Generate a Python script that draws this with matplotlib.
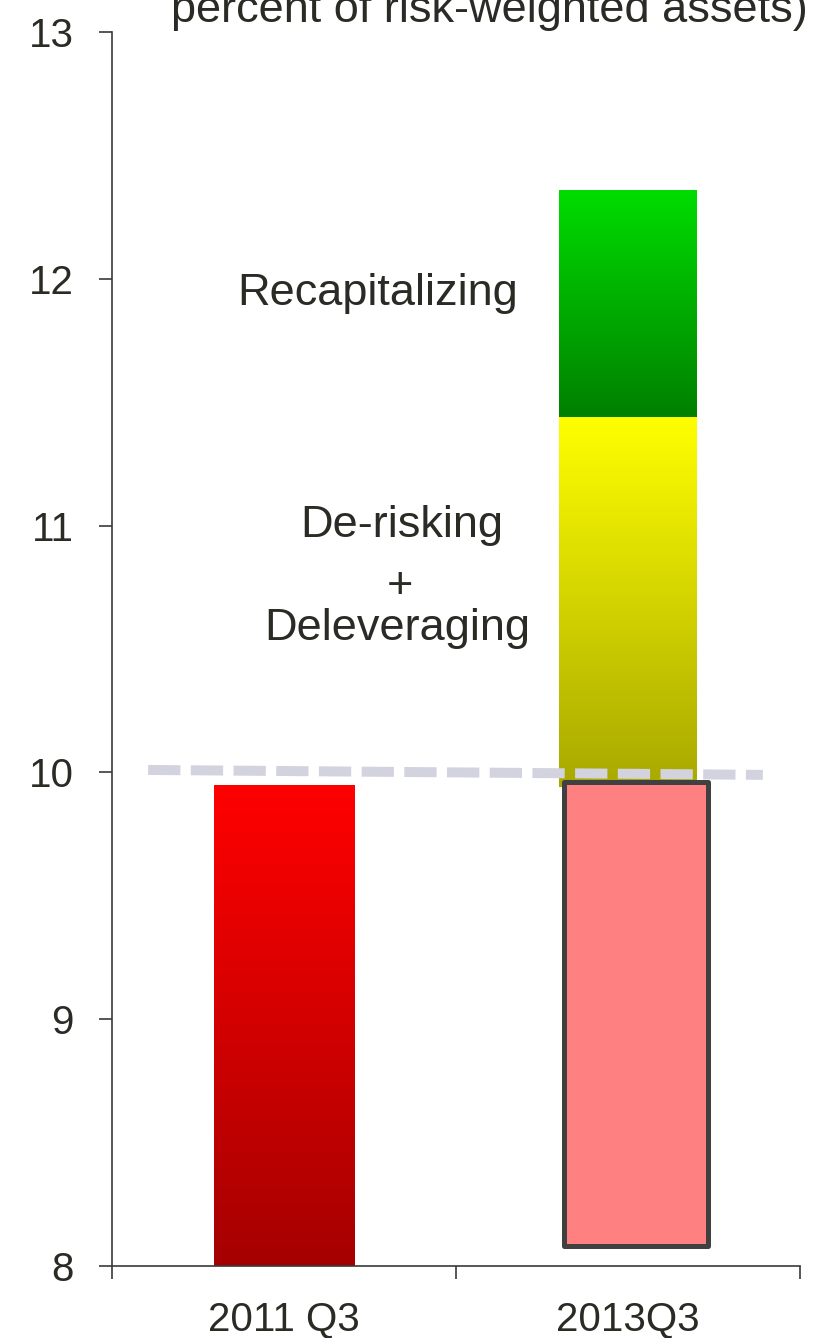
import numpy as np
import matplotlib
matplotlib.use("Agg")
import matplotlib.pyplot as plt
from matplotlib.colors import LinearSegmentedColormap

plt.rcParams['font.family'] = ['Liberation Sans', 'DejaVu Sans']

# ---- data ----
categories = ["2011 Q3", "2013Q3"]
base_2011 = 9.95
base_2013 = 9.96          # outlined box (2013 starting level)
base_2013_bottom = 8.083
derisking_top = 11.44
recap_top = 12.36
threshold = [10.01, 9.99]  # dashed reference line (start, end)
yticks = [8, 9, 10, 11, 12, 13]
title_text = "percent of risk-weighted assets)"

TXT = "#2b2b25"
LBL = 32.5
TCK = 29

fig = plt.figure(figsize=(8.17, 13.38), dpi=100)
ax = fig.add_axes([112/817, 1-1266/1338, (800-112)/817, (1266-32)/1338])
ax.set_xlim(0, 2)
ax.set_ylim(8, 13)

def grad_bar(x, bottom, top, width, c_top, c_bot, zorder=2):
    bars = ax.bar(x, top - bottom, bottom=bottom, width=width, color='none',
                  linewidth=0, zorder=zorder)
    patch = bars[0]
    cmap = LinearSegmentedColormap.from_list("g", [c_bot, c_top])
    grad = np.linspace(0, 1, 256).reshape(-1, 1)
    im = ax.imshow(grad, cmap=cmap, origin='lower', aspect='auto',
                   extent=[x - width/2, x + width/2, bottom, top],
                   zorder=zorder, interpolation='bicubic')
    im.set_clip_path(patch)
    return patch

# 2011 Q3 red bar
grad_bar(0.5, 8, base_2011, 0.407, "#ff0000", "#a50000")
# 2013 yellow segment
grad_bar(1.5, base_2013 - 0.02, derisking_top, 0.4, "#ffff00", "#a8a800", zorder=2)
# 2013 green segment
grad_bar(1.5, derisking_top, recap_top, 0.4, "#00dd00", "#008000", zorder=2)

# dashed threshold line
ax.plot([0.105, 1.892], threshold, color="#d3d3e0", linewidth=7.2,
        dashes=(3.23, 1.04), solid_capstyle='butt', dash_capstyle='butt', zorder=3)

# 2013 outlined pink box
ax.bar(1.522, base_2013 - base_2013_bottom, bottom=base_2013_bottom, width=0.419,
       color="#ff8080", edgecolor="#404040", linewidth=3.6, joinstyle='round',
       zorder=4)

# labels
ax.text(0.771, 11.894, "Recapitalizing", ha='center', va='baseline',
        fontsize=LBL, color=TXT)
ax.text(0.843, 10.954, "De-risking", ha='center', va='baseline',
        fontsize=LBL, color=TXT)
ax.text(0.837, 10.707, "+", ha='center', va='baseline',
        fontsize=LBL, color=TXT)
ax.text(0.829, 10.536, "Deleveraging", ha='center', va='baseline',
        fontsize=LBL, color=TXT)

# axes styling
for s in ['top', 'right']:
    ax.spines[s].set_visible(False)
for s in ['left', 'bottom']:
    ax.spines[s].set_color("#3a3a3a")
    ax.spines[s].set_linewidth(1.2)
ax.set_yticks(yticks)
ax.set_yticklabels([str(v) for v in yticks])
ax.set_xticks([0, 1, 2])
ax.set_xticklabels([])
ax.set_xticks([0.5, 1.5], minor=True)
ax.set_xticklabels(categories, minor=True)
ax.tick_params(axis='x', which='major', length=9, width=1.2, color="#3a3a3a", direction='out')
ax.tick_params(axis='x', which='minor', length=0, pad=25, labelsize=TCK, labelcolor=TXT)
ax.tick_params(axis='y', length=9.5, width=1.2, color="#3a3a3a", labelsize=TCK,
               labelcolor=TXT, pad=18)

fig.text(489/817, 1-22/1338, title_text, ha='center', va='baseline',
         fontsize=LBL, color=TXT)

fig.savefig("out.png", dpi=100)
